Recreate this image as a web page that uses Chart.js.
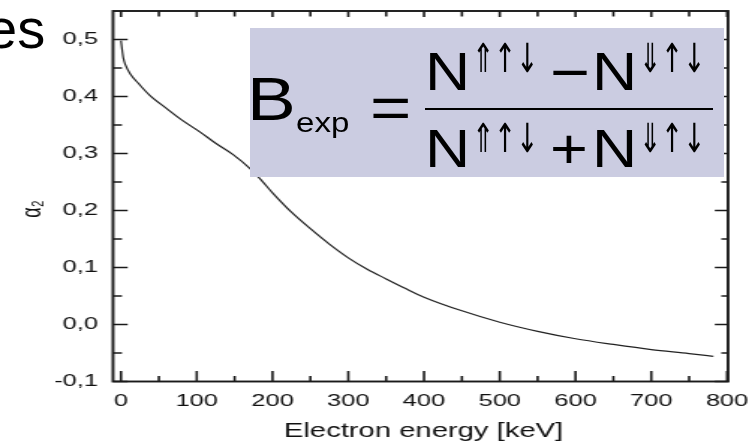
<!DOCTYPE html>
<html><head><meta charset="utf-8">
<script src="https://cdn.jsdelivr.net/npm/chart.js@4"></script>
<style>
html,body{margin:0;padding:0;background:#fff;overflow:hidden;width:755px;height:443px;}
#wrap{position:absolute;left:0;top:0;width:755px;height:443px;}
#stretch{position:absolute;left:0;top:0;width:504px;height:443px;transform-origin:0 0;transform:scaleX(1.49802);}
canvas{display:block}
.t{position:absolute;font-family:"Liberation Sans",Arial,sans-serif;line-height:1;white-space:nowrap;color:#000;transform-origin:0 0;}
.s{transform:scaleX(1.18);}
.ar{font-family:"DejaVu Sans",sans-serif;transform:scaleX(0.66);}
#box{position:absolute;left:250px;top:28px;width:474px;height:149px;background:#cbcce1;}
#bar{position:absolute;left:425px;top:108px;width:288px;height:2px;background:#000;}
</style></head><body>
<div id="wrap">
<div id="stretch"><canvas id="c" width="504" height="443"></canvas></div>
<div class="t" style="left:-14px;top:0.6px;font-size:56px;">es</div>
<div id="box"></div>
<div class="t s" style="left:246.7px;top:67.5px;font-size:62px;">B</div>
<div class="t s" style="left:296px;top:109.3px;font-size:28px;">exp</div>
<div class="t s" style="left:369.5px;top:78px;font-size:60px;">=</div>
<div id="bar"></div>
<div class="t s" style="left:425.3px;top:45.1px;font-size:53px;">N</div>
<div class="t ar" style="left:472px;top:37.8px;font-size:40px;">⇑↑↓</div>
<div class="t s" style="left:549.6px;top:42.9px;font-size:58px;">−</div>
<div class="t s" style="left:592.3px;top:45.1px;font-size:53px;">N</div>
<div class="t ar" style="left:639px;top:37.8px;font-size:40px;">⇓↑↓</div>
<div class="t s" style="left:425.3px;top:122.1px;font-size:53px;">N</div>
<div class="t ar" style="left:472px;top:117.8px;font-size:40px;">⇑↑↓</div>
<div class="t s" style="left:549.8px;top:122.4px;font-size:55px;">+</div>
<div class="t s" style="left:592.3px;top:122.1px;font-size:53px;">N</div>
<div class="t ar" style="left:639px;top:117.8px;font-size:40px;">⇓↑↓</div>
</div>
<script>
const energy = [0, 1, 3, 6, 12, 25, 38, 60, 80, 104, 125, 148, 170, 186, 200, 225, 250, 275, 300, 325, 350, 375, 400, 450, 500, 550, 600, 650, 700, 750, 782];
const alpha2 = [0.498, 0.487, 0.468, 0.455, 0.440, 0.420, 0.402, 0.379, 0.359, 0.338, 0.318, 0.298, 0.274, 0.252, 0.231, 0.197, 0.168, 0.141, 0.117, 0.097, 0.080, 0.0635, 0.048, 0.024, 0.004, -0.012, -0.025, -0.035, -0.044, -0.051, -0.056];
const xTicks = [0, 100, 200, 300, 400, 500, 600, 700, 800];
const xMinor = [50, 150, 250, 350, 450, 550, 650, 750];
const yTicks = [-0.1, 0, 0.1, 0.2, 0.3, 0.4, 0.5];
const yMinor = [-0.05, 0.05, 0.15, 0.25, 0.35, 0.45];
const xTitle = 'Electron energy [keV]';
const yTitle = 'α₂';

const FAM = '"Liberation Sans", Arial, sans-serif';

const frame = {
  id: 'frame',
  afterDraw(chart) {
    const {ctx, chartArea: a, scales: {x, y}} = chart;
    ctx.save();
    ctx.strokeStyle = '#1a1a1a';
    ctx.lineWidth = 1.6;
    ctx.beginPath();
    xTicks.forEach(v => { const p = x.getPixelForValue(v); ctx.moveTo(p, a.bottom); ctx.lineTo(p, a.bottom - 10.5); ctx.moveTo(p, a.top); ctx.lineTo(p, a.top + 6); });
    xMinor.forEach(v => { const p = x.getPixelForValue(v); ctx.moveTo(p, a.bottom); ctx.lineTo(p, a.bottom - 5.5); ctx.moveTo(p, a.top); ctx.lineTo(p, a.top + 5.5); });
    yTicks.forEach(v => { const p = y.getPixelForValue(v); ctx.moveTo(a.left, p); ctx.lineTo(a.left + 9.8, p); ctx.moveTo(a.right, p); ctx.lineTo(a.right - 8.8, p); });
    yMinor.forEach(v => { const p = y.getPixelForValue(v); ctx.moveTo(a.left, p); ctx.lineTo(a.left + 6, p); ctx.moveTo(a.right, p); ctx.lineTo(a.right - 4.5, p); });
    ctx.stroke();
    ctx.lineWidth = 1.9;
    ctx.strokeRect(a.left, a.top, a.right - a.left, a.bottom - a.top);
    ctx.fillStyle = '#111';
    ctx.font = '19.5px ' + FAM;
    ctx.textAlign = 'center';
    ctx.textBaseline = 'alphabetic';
    ctx.fillText(xTitle, 282.7, 437);
    ctx.translate(22, 209);
    ctx.rotate(-Math.PI / 2);
    ctx.font = '18px ' + FAM;
    ctx.textBaseline = 'middle';
    ctx.fillText(yTitle, 0, 0);
    ctx.restore();
  }
};

new Chart(document.getElementById('c'), {
  type: 'line',
  data: {
    datasets: [{
      data: energy.map((e, i) => ({x: e, y: alpha2[i]})),
      borderColor: '#222',
      borderWidth: 1.2,
      pointRadius: 0,
      cubicInterpolationMode: 'monotone',
      fill: false
    }]
  },
  options: {
    responsive: false,
    animation: false,
    devicePixelRatio: 1,
    layout: {padding: {top: 11, right: 18.02, left: 0, bottom: 0}},
    plugins: {legend: {display: false}, tooltip: {enabled: false}},
    scales: {
      x: {
        type: 'linear', min: -10.56, max: 801.3,
        grid: {display: false, drawTicks: false, tickLength: 0}, border: {display: false},
        afterBuildTicks: s => { s.ticks = xTicks.map(v => ({value: v})); },
        afterFit: s => { s.height = 61.5; s.paddingLeft = 0; s.paddingRight = 0; },
        ticks: {font: {family: FAM, size: 17}, color: '#111', padding: 9.3, maxRotation: 0, autoSkip: false, callback: v => String(v)},
        title: {display: false}
      },
      y: {
        type: 'linear', min: -0.1, max: 0.55,
        grid: {display: false, drawTicks: false, tickLength: 0}, border: {display: false},
        afterBuildTicks: s => { s.ticks = yTicks.map(v => ({value: v})); },
        afterFit: s => { s.width = 75.43; s.paddingTop = 0; s.paddingBottom = 0; },
        ticks: {font: {family: FAM, size: 17}, color: '#111', padding: 10, autoSkip: false, callback: v => v.toFixed(1).replace('.', ',')}
      }
    }
  },
  plugins: [frame]
});
</script>
</body></html>
